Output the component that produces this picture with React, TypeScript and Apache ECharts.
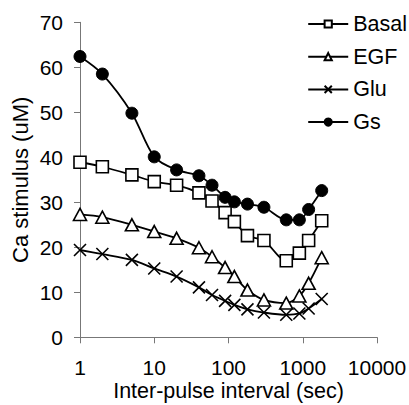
import React, { useEffect, useRef } from "react";
import * as echarts from "echarts";

const intervals = [1, 2, 5, 10, 20, 40, 60, 90, 120, 180, 300, 600, 900, 1200, 1800];
const basal = [38.9, 37.9, 36.1, 34.6, 33.8, 32.1, 30.3, 27.7, 25.7, 22.6, 21.5, 17.0, 18.7, 21.5, 25.9];
const egf = [27.3, 26.7, 25.0, 23.5, 22.0, 19.9, 17.9, 15.5, 13.5, 10.5, 8.3, 7.6, 9.2, 12.0, 17.7];
const glu = [19.4, 18.5, 17.2, 15.3, 13.5, 11.1, 9.4, 8.1, 7.2, 6.2, 5.5, 5.0, 5.3, 6.4, 8.5];
const gs = [62.4, 58.5, 49.8, 40.1, 37.2, 35.9, 33.8, 31.1, 30.1, 29.6, 28.9, 26.1, 26.1, 28.4, 32.6];
const seriesNames = ["Basal", "EGF", "Glu", "Gs"];
const xTicks = [1, 10, 100, 1000, 10000];

const FONT = "'Liberation Sans', Arial, Helvetica, sans-serif";

export default function App() {
  const ref = useRef<HTMLDivElement>(null);
  useEffect(() => {
    if (!ref.current) return;
    const chart = echarts.init(ref.current, undefined, { renderer: "svg" });
    const pairs = (vals: number[]) => intervals.map((x, i) => [x, vals[i]]);
    const base = {
      type: "line",
      smooth: 0.3,
      lineStyle: { color: "#000", width: 1.8 },
      symbolSize: 11,
    };
    chart.setOption({
      animation: false,
      backgroundColor: "#fff",
      textStyle: { fontFamily: FONT },
      grid: {
        left: 80,
        right: 32,
        top: 22.3,
        bottom: 67.7,
        containLabel: false,
        outerBoundsMode: "none",
      },
      legend: {
        orient: "vertical",
        right: 2,
        top: 13,
        padding: 0,
        itemWidth: 40,
        itemHeight: 9,
        itemGap: 10.7,
        data: seriesNames,
        textStyle: { fontSize: 21.5, lineHeight: 21, color: "#000", fontFamily: FONT },
      },
      xAxis: {
        type: "log",
        logBase: 10,
        min: 1,
        max: 10000,
        name: "Inter-pulse interval (sec)",
        nameLocation: "middle",
        nameGap: 44,
        nameMoveOverlap: false,
        nameTextStyle: { fontSize: 21.5, lineHeight: 20, color: "#000", fontFamily: FONT },
        axisLine: { lineStyle: { color: "#777", width: 1 } },
        axisTick: { show: true, inside: false, length: 6, lineStyle: { color: "#777" } },
        axisLabel: {
          fontSize: 21,
          lineHeight: 21,
          color: "#000",
          margin: 20,
          fontFamily: FONT,
          formatter: (v: number) => {
            const t = xTicks.find((k) => Math.abs(k - v) / k < 1e-6);
            return t !== undefined ? String(t) : "";
          },
        },
        splitLine: { show: false },
        minorTick: { show: false },
      },
      yAxis: {
        type: "value",
        min: 0,
        max: 70,
        interval: 10,
        name: "Ca stimulus (uM)",
        nameLocation: "middle",
        nameGap: 49,
        nameMoveOverlap: false,
        nameTextStyle: { fontSize: 22, color: "#000", fontFamily: FONT },
        axisLine: { show: true, lineStyle: { color: "#777", width: 1 } },
        axisTick: { show: true, inside: false, length: 6, lineStyle: { color: "#777" } },
        axisLabel: { fontSize: 21, color: "#000", margin: 17, fontFamily: FONT },
        splitLine: { show: false },
      },
      series: [
        {
          ...base,
          name: "Basal",
          data: pairs(basal),
          symbol: "rect",
          symbolSize: 12,
          itemStyle: { color: "#fff", borderColor: "#000", borderWidth: 1.6 },
          z: 3,
        },
        {
          ...base,
          name: "EGF",
          data: pairs(egf),
          symbol: "triangle",
          symbolSize: [13, 12],
          itemStyle: { color: "#fff", borderColor: "#000", borderWidth: 1.6 },
          z: 2,
        },
        {
          ...base,
          name: "Glu",
          data: pairs(glu),
          symbol: "path://M0,0L10,10M10,0L0,10",
          symbolSize: 12,
          itemStyle: { color: "none", borderColor: "#000", borderWidth: 1.6 },
          z: 1,
        },
        {
          ...base,
          name: "Gs",
          data: pairs(gs),
          symbol: "circle",
          symbolSize: 12,
          itemStyle: { color: "#000", borderColor: "#000", borderWidth: 1 },
          z: 4,
        },
      ],
    });
    return () => chart.dispose();
  }, []);
  return <div ref={ref} style={{ width: 409, height: 405, position: "absolute", left: 0, top: 0 }} />;
}
